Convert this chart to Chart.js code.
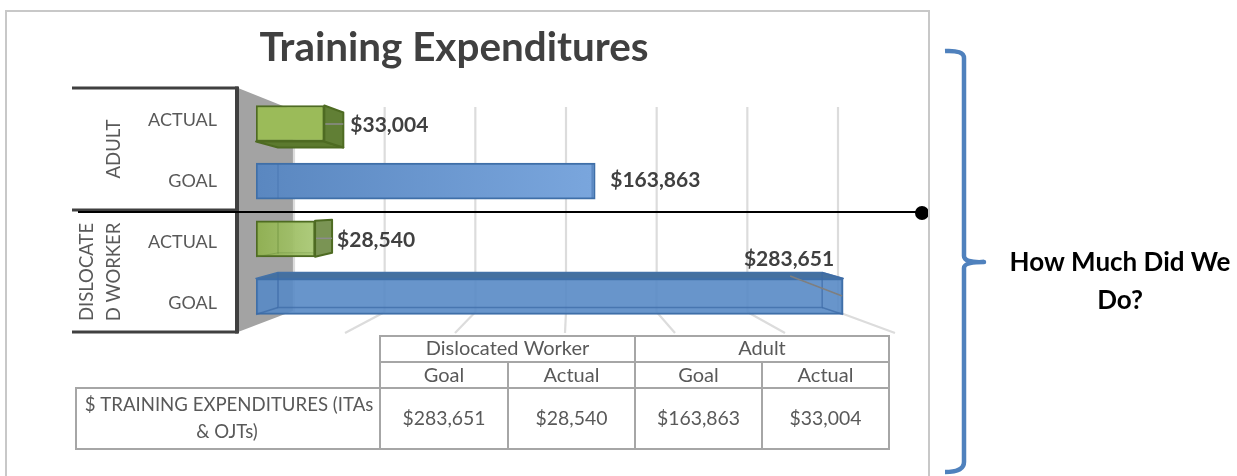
<!DOCTYPE html>
<html>
<head>
<meta charset="utf-8">
<title>Training Expenditures</title>
<script src="https://cdn.jsdelivr.net/npm/chart.js@4/dist/chart.umd.min.js"></script>
<style>
html,body{margin:0;padding:0;background:#fff;overflow:hidden}
#wrap{position:relative;width:1237px;height:476px}
canvas{display:block}
</style>
</head>
<body>
<div id="wrap"><canvas id="c" width="1237" height="476"></canvas></div>
<script>
// ---- data ----
const chartTitle = 'Training Expenditures';
const barLabels = ['ACTUAL', 'GOAL', 'ACTUAL', 'GOAL'];
const barValues = [33004, 163863, 28540, 283651];
const groupLabels = [['ADULT'], ['DISLOCATE', 'D WORKER']];
const tableGroups = ['Dislocated Worker', 'Adult'];
const tableSubheads = ['Goal', 'Actual', 'Goal', 'Actual'];
const tableRowHead = ['$ TRAINING EXPENDITURES (ITAs', '& OJTs)'];
const tableValues = [283651, 28540, 163863, 33004];
const sideNote = ['How Much Did We', 'Do?'];
const xTicks = [0, 50000, 100000, 150000, 200000, 250000, 300000];

const FONT = 'Lato, Carlito, Calibri, sans-serif';
const TXT = '#595959', DARK = '#404040';
const money = v => '$' + v.toLocaleString('en-US');

function line(ctx, pts, color, w, cap) {
  ctx.save();
  ctx.strokeStyle = color; ctx.lineWidth = w; ctx.lineCap = cap || 'butt';
  ctx.beginPath();
  pts.forEach((p, i) => i ? ctx.lineTo(p[0], p[1]) : ctx.moveTo(p[0], p[1]));
  ctx.stroke(); ctx.restore();
}
function poly(ctx, pts, fill, stroke, w) {
  ctx.save();
  ctx.lineJoin = 'round';
  ctx.beginPath();
  pts.forEach((p, i) => i ? ctx.lineTo(p[0], p[1]) : ctx.moveTo(p[0], p[1]));
  ctx.closePath();
  if (fill) { ctx.fillStyle = fill; ctx.fill(); }
  if (stroke) { ctx.strokeStyle = stroke; ctx.lineWidth = w || 1; ctx.stroke(); }
  ctx.restore();
}
function text(ctx, s, x, y, font, color, align) {
  ctx.save();
  ctx.font = font; ctx.fillStyle = color; ctx.textAlign = align || 'center'; ctx.textBaseline = 'middle';
  ctx.fillText(s, x, y); ctx.restore();
}

// wall, gridlines, floor: everything behind the bars
const backdrop = {
  id: 'backdrop',
  beforeDatasetsDraw(chart) {
    const ctx = chart.ctx, sx = chart.scales.x;
    const span = sx.right - sx.left;
    poly(ctx, [[238, 88], [293, 110], [293, 311], [238, 332]], '#a3a3a3');
    xTicks.forEach(v => {
      const f = (sx.getPixelForValue(v) - sx.left) / span;
      const back = 293 + f * 544, front = 235 + f * 660;
      line(ctx, [[back + 1, 107], [back + 1, 312]], '#dcdcdc', 2.2);
      if (v > 0) line(ctx, [[back + 1, 312], [front, 333]], '#dcdcdc', 2.2);
    });
    // side faces of the bars, behind the translucent fronts
    const m = chart.getDatasetMeta(0).data;
    const b0 = m[0], b2 = m[2], b3 = m[3];
    const t0 = b0.y - b0.height / 2, e0 = b0.y + b0.height / 2;
    poly(ctx, [[b0.base, e0], [b0.base + 22, e0 + 6], [b0.x + 19, e0 + 6], [b0.x, e0]], '#5c7a2e', '#4e6b22', 2);
    poly(ctx, [[b0.x, t0], [b0.x + 19, t0 + 7], [b0.x + 19, e0 + 6], [b0.x, e0]], '#617f35', '#4e6b22', 2);
    const t2 = b2.y - b2.height / 2, e2 = b2.y + b2.height / 2;
    poly(ctx, [[b2.x, t2], [b2.x + 17, t2 - 1], [b2.x + 17, e2 - 4], [b2.x, e2]], '#7a9454', '#4e6b22', 2);
    const t3 = b3.y - b3.height / 2, e3 = b3.y + b3.height / 2;
    poly(ctx, [[b3.base, t3], [b3.base + 22, t3 - 6], [b3.x - 21, t3 - 6], [b3.x, t3]], '#45709f', '#4472a8', 1.5);
  }
};

// faces, leader lines, value labels, table, annotations
const overlay = {
  id: 'overlay',
  afterDatasetsDraw(chart) {
    const ctx = chart.ctx;
    const m = chart.getDatasetMeta(0).data;
    const b0 = m[0], b1 = m[1], b2 = m[2], b3 = m[3];
    // inner edges seen through the bars
    const t1 = b1.y - b1.height / 2, e1 = b1.y + b1.height / 2;
    line(ctx, [[b1.base + 22, t1 + 1], [b1.base + 22, e1 - 1]], 'rgba(60,105,165,.35)', 1.5);
    line(ctx, [[b1.x - 3, t1 + 1], [b1.x - 3, e1 - 1]], 'rgba(60,105,165,.5)', 1.5);
    const t2 = b2.y - b2.height / 2, e2 = b2.y + b2.height / 2;
    line(ctx, [[b2.base + 22, t2 + 1], [b2.base + 22, e2 - 3]], 'rgba(90,130,50,.35)', 1.5);
    line(ctx, [[b2.base, e2], [b2.base + 22, e2 - 4], [b2.x, e2 - 4]], 'rgba(90,130,50,.35)', 1);
    const t3 = b3.y - b3.height / 2, e3 = b3.y + b3.height / 2;
    line(ctx, [[b3.base + 22, t3 - 6], [b3.base + 22, e3 - 7], [b3.x - 21, e3 - 7], [b3.x - 21, t3 - 6]], 'rgba(60,105,165,.7)', 1.5);
    line(ctx, [[b3.base, e3], [b3.base + 22, e3 - 7]], 'rgba(60,105,165,.7)', 1.5);
    line(ctx, [[b3.x, e3], [b3.x - 21, e3 - 7]], 'rgba(60,105,165,.7)', 1.5);
    line(ctx, [[b3.x, t3], [b3.x - 21, t3 - 6]], 'rgba(60,105,165,.7)', 1.5);

    // leader lines
    line(ctx, [[b0.x + 1, b0.y + 0.5], [b0.x + 19, b0.y + 0.5]], '#8c8c8c', 1.5);
    line(ctx, [[b2.x + 1, b2.y - 0.5], [b2.x + 17, b2.y - 0.5]], '#8c8c8c', 1.5);
    line(ctx, [[b3.x - 53, 276], [b3.x - 1, 296]], '#7f7f7f', 1.5);

    // value labels
    const lf = 'bold 21px ' + FONT;
    text(ctx, money(barValues[0]), b0.x + 26, 125.5, lf, DARK, 'left');
    text(ctx, money(barValues[1]), b1.x + 15, 180.5, lf, DARK, 'left');
    text(ctx, money(barValues[2]), b2.x + 22, 240.5, lf, DARK, 'left');
    text(ctx, money(barValues[3]), 789, 259.5, lf, DARK, 'center');

    // multi-level axis frame
    const AX = '#404040';
    [88, 210, 332].forEach(y => line(ctx, [[72, y], [238, y]], AX, 3));
    line(ctx, [[237, 86.5], [237, 333.5]], AX, 4);
    const gf = '18.5px ' + FONT;
    const rot = (lines, xs, cy) => lines.forEach((s, i) => {
      ctx.save(); ctx.translate(xs[i], cy); ctx.rotate(-Math.PI / 2);
      text(ctx, s, 0, 0, gf, TXT); ctx.restore();
    });
    rot(groupLabels[0], [114], 149);
    rot(groupLabels[1], [87, 114], 272);

    // crossing line with end dot
    line(ctx, [[78, 212], [922, 212]], '#000', 2);
    ctx.save(); ctx.fillStyle = '#000'; ctx.beginPath(); ctx.arc(922, 213, 7, 0, Math.PI * 2); ctx.fill(); ctx.restore();

    // data table
    const G = '#a6a6a6', cols = [380, 508, 635, 762, 889];
    const tf = '20px ' + FONT, vf = '19.4px ' + FONT, hf = '18.6px ' + FONT;
    ctx.save(); ctx.strokeStyle = G; ctx.lineWidth = 2;
    ctx.strokeRect(380, 336, 509, 113);
    ctx.strokeRect(76, 388, 304, 61);
    ctx.restore();
    line(ctx, [[380, 362], [889, 362]], G, 2);
    line(ctx, [[76, 388], [889, 388]], G, 2);
    line(ctx, [[635, 336], [635, 449]], G, 2);
    line(ctx, [[508, 362], [508, 449]], G, 2);
    line(ctx, [[762, 362], [762, 449]], G, 2);
    text(ctx, tableGroups[0], 507.5, 349, tf, TXT);
    text(ctx, tableGroups[1], 762, 349, tf, TXT);
    tableSubheads.forEach((s, i) => text(ctx, s, (cols[i] + cols[i + 1]) / 2, 375.5, tf, TXT));
    tableValues.forEach((v, i) => text(ctx, money(v), (cols[i] + cols[i + 1]) / 2, 418.5, vf, TXT));
    text(ctx, tableRowHead[0], 229, 404.5, hf, TXT);
    text(ctx, tableRowHead[1], 227, 431.5, hf, TXT);

    // title
    text(ctx, chartTitle, 454, 48, 'bold 40.4px ' + FONT, DARK);

    // chart frame
    line(ctx, [[6, 476], [6, 11], [929, 11], [929, 476]], '#c8c8c8', 2);

    // brace and side note
    ctx.save();
    ctx.strokeStyle = '#4f81bd'; ctx.lineWidth = 4.5; ctx.lineJoin = 'round';
    ctx.beginPath();
    ctx.moveTo(945, 51);
    ctx.quadraticCurveTo(964, 50, 964, 58);
    ctx.lineTo(964, 256);
    ctx.quadraticCurveTo(964, 263, 984, 262);
    ctx.quadraticCurveTo(964, 262, 964, 268);
    ctx.lineTo(964, 462);
    ctx.quadraticCurveTo(964, 472, 945, 472);
    ctx.stroke();
    ctx.restore();
    const nf = 'bold 26px ' + FONT;
    text(ctx, sideNote[0], 1120, 263, nf, '#000');
    text(ctx, sideNote[1], 1120, 301, nf, '#000');
  }
};

const ctx = document.getElementById('c').getContext('2d');
new Chart(ctx, {
  type: 'bar',
  data: {
    datasets: [{
      data: barValues.map((v, i) => ({ x: v, y: i })),
      xAxisID: 'x', yAxisID: 'yb',
      barThickness: 36,
      backgroundColor: [
        '#9bbb59',
        (() => { const g = ctx.createLinearGradient(256, 0, 595, 0); g.addColorStop(0, '#5a87c0'); g.addColorStop(1, '#7aa6dd'); return g; })(),
        (() => { const g = ctx.createLinearGradient(256, 0, 316, 0); g.addColorStop(0, 'rgba(143,176,79,.95)'); g.addColorStop(1, 'rgba(170,201,118,.95)'); return g; })(),
        'rgba(88,137,197,.9)'
      ],
      borderColor: ['#4e6b22', '#3f6fa8', '#4e6b22', '#3f6fa8'],
      borderWidth: 2,
      borderSkipped: false
    }]
  },
  options: {
    indexAxis: 'y',
    responsive: false,
    animation: false,
    layout: { padding: { left: 0, right: 360, top: 90, bottom: 142 } },
    plugins: { legend: { display: false }, tooltip: { enabled: false }, title: { display: false } },
    scales: {
      x: { type: 'linear', position: 'bottom', min: 0, max: 300000, display: false, ticks: { stepSize: 50000 } },
      yb: { type: 'linear', axis: 'y', position: 'left', reverse: true, offset: false, grid: { offset: false }, min: -0.581, max: 3.650, display: false },
      y: {
        type: 'category', axis: 'y', position: 'left', labels: barLabels, offset: true,
        grid: { display: false, drawTicks: false }, border: { display: false },
        ticks: { color: TXT, font: { family: FONT, size: 18 }, padding: 39, autoSkip: false, maxRotation: 0 },
        afterFit(s) { s.width = 256; }
      }
    }
  },
  plugins: [backdrop, overlay]
});
</script>
</body>
</html>
